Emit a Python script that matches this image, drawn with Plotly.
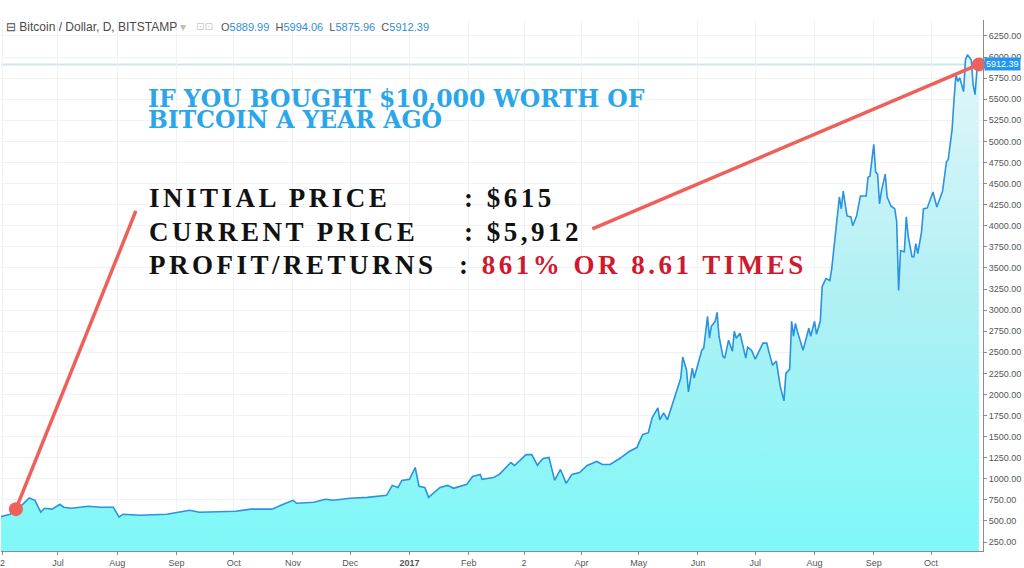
import plotly.graph_objects as go

dates = [
    "2016-06-01", "2016-06-02", "2016-06-06", "2016-06-09", "2016-06-12", "2016-06-16", "2016-06-19",
    "2016-06-22", "2016-06-24", "2016-06-28", "2016-07-02", "2016-07-04", "2016-07-08", "2016-07-17",
    "2016-07-23", "2016-07-30", "2016-08-02", "2016-08-04", "2016-08-13", "2016-08-27", "2016-09-03",
    "2016-09-08", "2016-09-13", "2016-10-02", "2016-10-10", "2016-10-21", "2016-10-27", "2016-11-01",
    "2016-11-03", "2016-11-12", "2016-11-18", "2016-11-22", "2016-12-01", "2016-12-10", "2016-12-20",
    "2016-12-23", "2016-12-26", "2016-12-28", "2017-01-01", "2017-01-04", "2017-01-06", "2017-01-09",
    "2017-01-11", "2017-01-13", "2017-01-17", "2017-01-21", "2017-01-24", "2017-01-31", "2017-02-03",
    "2017-02-07", "2017-02-08", "2017-02-14", "2017-02-17", "2017-02-23", "2017-02-25", "2017-03-03",
    "2017-03-06", "2017-03-09", "2017-03-10", "2017-03-12", "2017-03-15", "2017-03-18", "2017-03-21",
    "2017-03-24", "2017-03-27", "2017-03-31", "2017-04-04", "2017-04-09", "2017-04-12", "2017-04-16",
    "2017-04-21", "2017-04-26", "2017-04-30", "2017-05-03", "2017-05-06", "2017-05-08", "2017-05-11",
    "2017-05-12", "2017-05-14", "2017-05-16", "2017-05-20", "2017-05-23", "2017-05-24", "2017-05-26",
    "2017-05-27", "2017-05-29", "2017-05-30", "2017-06-03", "2017-06-04", "2017-06-06", "2017-06-07",
    "2017-06-08", "2017-06-10", "2017-06-11", "2017-06-12", "2017-06-14", "2017-06-15", "2017-06-17",
    "2017-06-19", "2017-06-20", "2017-06-21", "2017-06-23", "2017-06-26", "2017-06-27", "2017-06-29",
    "2017-07-01", "2017-07-05", "2017-07-07", "2017-07-08", "2017-07-10", "2017-07-12", "2017-07-14",
    "2017-07-16", "2017-07-17", "2017-07-19", "2017-07-20", "2017-07-21", "2017-07-22", "2017-07-23",
    "2017-07-26", "2017-07-29", "2017-07-30", "2017-08-01", "2017-08-02", "2017-08-04", "2017-08-05",
    "2017-08-07", "2017-08-09", "2017-08-10", "2017-08-12", "2017-08-14", "2017-08-15", "2017-08-16",
    "2017-08-18", "2017-08-20", "2017-08-21", "2017-08-23", "2017-08-25", "2017-08-28", "2017-08-29",
    "2017-08-30", "2017-09-01", "2017-09-02", "2017-09-03", "2017-09-04", "2017-09-05", "2017-09-07",
    "2017-09-08", "2017-09-10", "2017-09-12", "2017-09-13", "2017-09-14", "2017-09-15", "2017-09-17",
    "2017-09-18", "2017-09-19", "2017-09-21", "2017-09-22", "2017-09-23", "2017-09-24", "2017-09-26",
    "2017-09-27", "2017-09-29", "2017-10-02", "2017-10-04", "2017-10-07", "2017-10-09", "2017-10-10",
    "2017-10-12", "2017-10-13", "2017-10-14", "2017-10-15", "2017-10-16", "2017-10-18", "2017-10-19",
    "2017-10-20", "2017-10-22", "2017-10-23", "2017-10-24", "2017-10-25", "2017-10-26",
]

prices = [
    550, 556, 580, 640, 686, 772, 745,
    604, 651, 640, 698, 663, 651, 674,
    663, 663, 545, 580, 568, 580, 604,
    627, 604, 615, 640, 640, 698, 745,
    710, 721, 757, 745, 769, 780, 804,
    922, 898, 981, 993, 1134, 910, 898,
    780, 816, 898, 922, 887, 934, 1028,
    1052, 993, 1016, 1052, 1193, 1158, 1287,
    1287, 1158, 1193, 1240, 1252, 981, 1111,
    946, 1052, 1075, 1158, 1205, 1170, 1170,
    1240, 1323, 1370, 1523, 1547, 1724, 1841,
    1700, 1782, 1700, 1995, 2195, 2443, 2290,
    2030, 2313, 2195, 2525, 2549, 2926, 2667,
    2808, 2867, 2973, 2690, 2455, 2431, 2643,
    2513, 2749, 2667, 2726, 2431, 2561, 2525,
    2419, 2608, 2608, 2513, 2348, 2396, 2101,
    1924, 2250, 2300, 2867, 2690, 2843, 2749,
    2525, 2784, 2690, 2867, 2714, 2867, 3280,
    3374, 3350, 3492, 3881, 4341, 4199, 4411,
    4116, 4105, 3999, 4116, 4353, 4353, 4576,
    4588, 4965, 4635, 4612, 4258, 4411, 4612,
    4341, 4234, 4199, 4046, 3233, 3704, 3692,
    4105, 3881, 3633, 3633, 3787, 3669, 3928,
    4199, 4211, 4400, 4223, 4411, 4753, 4788,
    5142, 5496, 5790, 5708, 5755, 5590, 5967,
    6026, 5967, 5673, 5555, 5850, 5912.39,
]

tick_dates = ["2016-06-02", "2016-07-01", "2016-08-01", "2016-09-01", "2016-10-01", "2016-11-01",
              "2016-12-01", "2017-01-01", "2017-02-01", "2017-03-02", "2017-04-01", "2017-05-01",
              "2017-06-01", "2017-07-01", "2017-08-01", "2017-09-01", "2017-10-01"]
tick_labels = ["2", "Jul", "Aug", "Sep", "Oct", "Nov", "Dec", "<b>2017</b>", "Feb", "2", "Apr", "May",
               "Jun", "Jul", "Aug", "Sep", "Oct"]

y_ticks = [250 * i for i in range(1, 26)]

symbol = "Bitcoin / Dollar, D, BITSTAMP"
ohlc = {"O": "5889.99", "H": "5994.06", "L": "5875.96", "C": "5912.39"}
last_price = 5912.39
initial_point = ("2016-06-09", 640)
current_point = ("2017-10-26", 5912.39)

title_lines = ["IF YOU BOUGHT $10,000 WORTH OF", "BITCOIN A YEAR AGO"]
info_labels = ["INITIAL PRICE", "CURRENT PRICE", "PROFIT/RETURNS"]
info_values = [": $615", ": $5,912", ": "]
profit_text = "861% OR 8.61 TIMES"

W, H = 1024, 568
ML, MR, MT, MB = 0, 41, 20, 14
PW, PH = W - ML - MR, H - MT - MB


def px(x):
    return (x - ML) / PW


def py(y):
    return (H - MB - y) / PH


fig = go.Figure()

fig.add_trace(go.Scatter(
    x=dates, y=prices, mode="lines",
    line=dict(color="#2a93e0", width=1.6),
    fill="tozeroy",
    fillgradient=dict(type="vertical", start=144, stop=6300,
                      colorscale=[[0, "#7ef8f8"], [0.5, "#b0f0f4"], [1, "#e8f7fb"]]),
    hoverinfo="skip", showlegend=False,
))

red = "#f0605a"
shapes = [
    dict(type="line", xref="paper", yref="y", x0=0, x1=1, y0=last_price, y1=last_price,
         line=dict(color="#cfe6ee", width=2), layer="below"),
    dict(type="line", xref="x", yref="y", x0=initial_point[0], y0=initial_point[1],
         x1="2016-08-10 19:00", y1=4175, line=dict(color=red, width=3.5)),
    dict(type="line", xref="x", yref="y", x0="2017-04-06 17:00", y0=3963,
         x1=current_point[0], y1=current_point[1], line=dict(color=red, width=3.5)),
]

fig.add_trace(go.Scatter(
    x=[initial_point[0], current_point[0]], y=[initial_point[1], current_point[1]],
    mode="markers", marker=dict(color=red, size=14), hoverinfo="skip", showlegend=False,
    cliponaxis=False,
))

annotations = []
# header
annotations.append(dict(
    xref="paper", yref="paper", x=px(3), y=py(27), xanchor="left", yanchor="middle",
    text="⊟ " + symbol + " <span style='color:#bbbbbb'>▾</span>",
    showarrow=False, font=dict(family="Liberation Sans", size=12, color="#4a4a4a"),
))
annotations.append(dict(
    xref="paper", yref="paper", x=px(193), y=py(27), xanchor="left", yanchor="middle",
    text="⊡⊡", showarrow=False, font=dict(family="DejaVu Sans", size=10, color="#c8c8c8"),
))
ohlc_txt = "  ".join(
    f"<span style='color:#555555'>{k}</span><span style='color:#2f8fd8'>{v}</span>" for k, v in ohlc.items())
annotations.append(dict(
    xref="paper", yref="paper", x=px(218), y=py(27), xanchor="left", yanchor="middle",
    text=ohlc_txt, showarrow=False, font=dict(family="Liberation Sans", size=11, color="#2f8fd8"),
))
# price label
annotations.append(dict(
    xref="paper", yref="y", x=1, y=last_price, xanchor="left", yanchor="middle", xshift=1,
    text=f"{last_price:.2f}", showarrow=False, bgcolor="#2196f3", borderpad=1,
    font=dict(family="Liberation Sans", size=9, color="white"),
))
# title
for i, line in enumerate(title_lines):
    annotations.append(dict(
        xref="paper", yref="paper", x=px(145), y=py(99 + 22 * i), xanchor="left", yanchor="middle",
        text=f"<b>{line}</b>", showarrow=False,
        font=dict(family="DejaVu Serif", size=23.5, color="#2ba6e8"),
    ))
# info block
ys = [199, 233, 266]
colon_x = [461, 461, 456]
for i in range(3):
    annotations.append(dict(
        xref="paper", yref="paper", x=px(146), y=py(ys[i]), xanchor="left", yanchor="middle",
        text=f"<b><span style='letter-spacing:3.5px'>{info_labels[i]}</span></b>", showarrow=False,
        font=dict(family="Liberation Serif", size=27, color="#111111"),
    ))
    val = info_values[i]
    if i == 2:
        val = f": <span style='color:#d2182d'>{profit_text}</span>"
    annotations.append(dict(
        xref="paper", yref="paper", x=px(colon_x[i]), y=py(ys[i]), xanchor="left", yanchor="middle",
        text=f"<b><span style='letter-spacing:3.5px'>{val}</span></b>", showarrow=False,
        font=dict(family="Liberation Serif", size=27, color="#111111"),
    ))

fig.update_layout(
    width=W, height=H,
    margin=dict(l=ML, r=MR, t=MT, b=MB),
    paper_bgcolor="white", plot_bgcolor="white",
    shapes=shapes, annotations=annotations,
    showlegend=False,
    xaxis=dict(
        type="date", range=["2016-06-01 05:00", "2017-10-28 04:00"],
        tickvals=tick_dates, ticktext=tick_labels, ticklabeloverflow="allow",
        showgrid=True, gridcolor="#f0f2f5", gridwidth=1,
        showline=True, linecolor="#8c8c8c", linewidth=1,
        ticks="outside", ticklen=3, tickcolor="#8c8c8c",
        tickfont=dict(family="Liberation Sans", size=9, color="#555555"),
        zeroline=False, fixedrange=True,
    ),
    yaxis=dict(
        side="right", range=[144, 6439],
        tickvals=y_ticks, tickformat=".2f",
        showgrid=True, gridcolor="#f0f2f5", gridwidth=1,
        showline=True, linecolor="#8c8c8c", linewidth=1,
        ticks="outside", ticklen=3, tickcolor="#8c8c8c",
        tickfont=dict(family="Liberation Sans", size=9, color="#555555"),
        zeroline=False, fixedrange=True,
    ),
)

fig.write_html("out.html", config={"displayModeBar": False})
